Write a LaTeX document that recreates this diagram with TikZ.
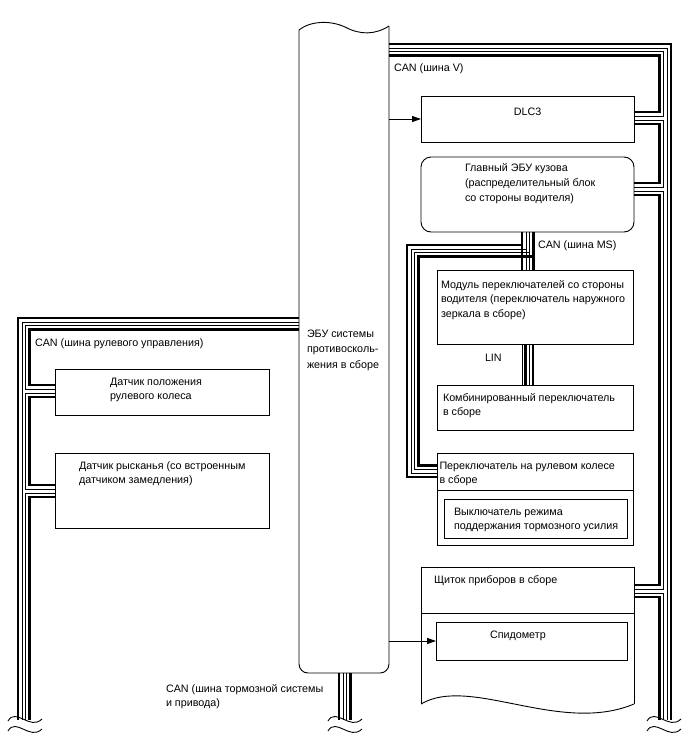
\documentclass[tikz,border=0pt]{standalone}
\usepackage{fontspec}
\setmainfont{Liberation Sans}
\usetikzlibrary{arrows.meta}
\newcommand\myst{\rule{0pt}{9pt}}
\begin{document}
\begin{tikzpicture}[x=1pt,y=-1pt,
  box/.style={draw, line width=0.9pt, inner sep=0pt, outer sep=0pt, anchor=north west},
  ghost/.style={inner sep=0pt, outer sep=0pt, anchor=north west},
  txt/.style={inner sep=0pt, outer sep=0pt, anchor=north west, align=left, font=\fontsize{10.75}{14.5}\selectfont},
  thk/.style={line width=2.6pt, line join=miter},
  thn/.style={line width=1pt, line join=miter},
  arr/.style={line width=0.9pt, -{Triangle[length=9pt,width=6pt]}},
  outl/.style={line width=0.9pt},
  tilde/.pic={\draw[line width=0.9pt] (0,0) .. controls (8,-14) and (22,10) .. (34,-2);}
]
\useasboundingbox (0,0) rectangle (688,755);
\fill[white] (0,0) rectangle (688,755);

% ---------- central ECU ----------
\node[ghost, minimum width=90, minimum height=647] (ecu) at (299,26) {};
\draw[outl] (299,30) .. controls (310,21) and (330,20) .. (345,27) .. controls (360,35) and (375,35) .. (389,26);
\draw[outl, rounded corners=9pt] (389,26) -- (389,673) -- (299,673) -- (299,30);
\node[txt, font=\fontsize{10.75}{15.5}\selectfont] (tecu) at (307,328) {\myst ЭБУ системы\\противосколь-\\жения в сборе};

% ---------- right side boxes ----------
\node[box, minimum width=213, minimum height=46] (dlc) at (421,96) {};
\node[box, rounded corners=10pt, minimum width=213, minimum height=75] (gl) at (421,157) {};
\node[box, minimum width=196, minimum height=74] (mod) at (437,270) {};
\node[box, minimum width=196, minimum height=45] (komb) at (437,385) {};
\node[box, minimum width=196, minimum height=92] (per) at (437,453) {};
\draw[outl] (437,490) -- (633,490);
\node[box, minimum width=183, minimum height=39] (vyk) at (444,499) {};
% instrument cluster with wavy bottom
\node[ghost, minimum width=213, minimum height=46] (sch) at (421,567) {};
\draw[outl] (421,704) -- (421,567) -- (634,567) -- (634,704);
\draw[outl] (421,704) .. controls (470,675) and (560,735) .. (634,704);
\draw[outl] (421,613) -- (634,613);
\node[box, minimum width=191, minimum height=38] (spd) at (436,622) {};

% ---------- left side boxes ----------
\node[box, minimum width=214, minimum height=46] (dp) at (55,369) {};
\node[box, minimum width=214, minimum height=75] (dr) at (55,453) {};

% ---------- texts ----------
\node[txt] (tcanv) at (394,62.5) {\myst CAN (шина V)};
\node[txt, anchor=north] (tdlc) at (527.5,106) {\myst DLC3};
\node[txt, font=\fontsize{10.75}{15}\selectfont] (tgl) at (465,162) {\myst Главный ЭБУ кузова\\(распределительный блок\\со стороны водителя)};
\node[txt] (tcanms) at (538,239) {\myst CAN (шина MS)};
\node[txt] (tmod) at (441,279) {\myst Модуль переключателей со стороны\\водителя (переключатель наружного\\зеркала в сборе)};
\node[txt] (tlin) at (485,352) {\myst LIN};
\node[txt, font=\fontsize{10.75}{14}\selectfont] (tkomb) at (443,392) {\myst Комбинированный переключатель\\в сборе};
\node[txt, font=\fontsize{10.75}{14}\selectfont] (tper) at (439.5,460) {\myst Переключатель на рулевом колесе\\в сборе};
\node[txt, font=\fontsize{10.75}{14}\selectfont] (tvyk) at (454,506) {\myst Выключатель режима\\поддержания тормозного усилия};
\node[txt] (tsch) at (434,574) {\myst Щиток приборов в сборе};
\node[txt] (tspd) at (490,629) {\myst Спидометр};
\node[txt] (tcanr) at (35,337) {\myst CAN (шина рулевого управления)};
\node[txt, font=\fontsize{10.75}{14}\selectfont] (tdp) at (110,376) {\myst Датчик положения\\рулевого колеса};
\node[txt, font=\fontsize{10.75}{14}\selectfont] (tdr) at (79,460) {\myst Датчик рысканья (со встроенным\\датчиком замедления)};
\node[txt, font=\fontsize{10.75}{14}\selectfont] (tcanb) at (166,683) {\myst CAN (шина тормозной системы\\и привода)};

% ---------- arrows ----------
\draw[arr] (ecu.east |- dlc.west) -- (dlc.west);
\draw[arr] (ecu.east |- spd.west) -- (spd.west);

% ---------- CAN V bus (right) ----------
\draw[thk] (389,44) -- (671,44) -- (671,720);
\draw[thn] (389,48) -- (667,48) -- (667,720);
\draw[thn] (389,51.5) -- (663.5,51.5) -- (663.5,116) -- (634,116);
\draw[thk] (389,55.5) -- (659.5,55.5) -- (659.5,112) -- (634,112);
\draw[thn] (634,120) -- (663.5,120) -- (663.5,187) -- (634,187);
\draw[thk] (634,124) -- (659.5,124) -- (659.5,183) -- (634,183);
\draw[thn] (634,191) -- (663.5,191) -- (663.5,589) -- (634,589);
\draw[thk] (634,195) -- (659.5,195) -- (659.5,585) -- (634,585);
\draw[thn] (634,593) -- (663.5,593) -- (663.5,720);
\draw[thk] (634,597) -- (659.5,597) -- (659.5,720);

% ---------- CAN MS bus ----------
\draw[thk] (522,232) -- (522,270);
\draw[thn] (526,232) -- (526,270);
\draw[thn] (529.5,232) -- (529.5,270);
\draw[thk] (533.5,232) -- (533.5,270);
\draw[thk] (522,245) -- (407,245) -- (407,477) -- (437,477);
\draw[thn] (526,249) -- (411,249) -- (411,473) -- (437,473);
\draw[thn] (529.5,252.5) -- (414.5,252.5) -- (414.5,469.5) -- (437,469.5);
\draw[thk] (533.5,256.5) -- (418.5,256.5) -- (418.5,465.5) -- (437,465.5);

% ---------- LIN ----------
\draw[thn] (522,344) -- (522,385);
\draw[thk] (525.5,344) -- (525.5,385);
\draw[thn] (529.5,344) -- (529.5,385);
\draw[thk] (533,344) -- (533,385);

% ---------- CAN steering bus (left) ----------
\draw[thk] (299,318) -- (18,318) -- (18,720);
\draw[thn] (299,322) -- (22,322) -- (22,720);
\draw[thn] (299,325.5) -- (25.5,325.5) -- (25.5,389) -- (55,389);
\draw[thk] (299,329.5) -- (29.5,329.5) -- (29.5,385) -- (55,385);
\draw[thn] (55,393) -- (25.5,393) -- (25.5,489) -- (55,489);
\draw[thk] (55,397) -- (29.5,397) -- (29.5,485) -- (55,485);
\draw[thn] (55,493) -- (25.5,493) -- (25.5,720);
\draw[thk] (55,497) -- (29.5,497) -- (29.5,720);

% ---------- CAN brake bus (bottom) ----------
\draw[thk] (339,673) -- (339,720);
\draw[thn] (343,673) -- (343,720);
\draw[thn] (346.5,673) -- (346.5,720);
\draw[thk] (350.5,673) -- (350.5,720);

% ---------- break marks ----------
\pic at (647,721) {tilde};
\pic at (647,731) {tilde};
\pic at (8,721) {tilde};
\pic at (8,731) {tilde};
\pic at (328,721) {tilde};
\pic at (328,731) {tilde};
\end{tikzpicture}
\end{document}
